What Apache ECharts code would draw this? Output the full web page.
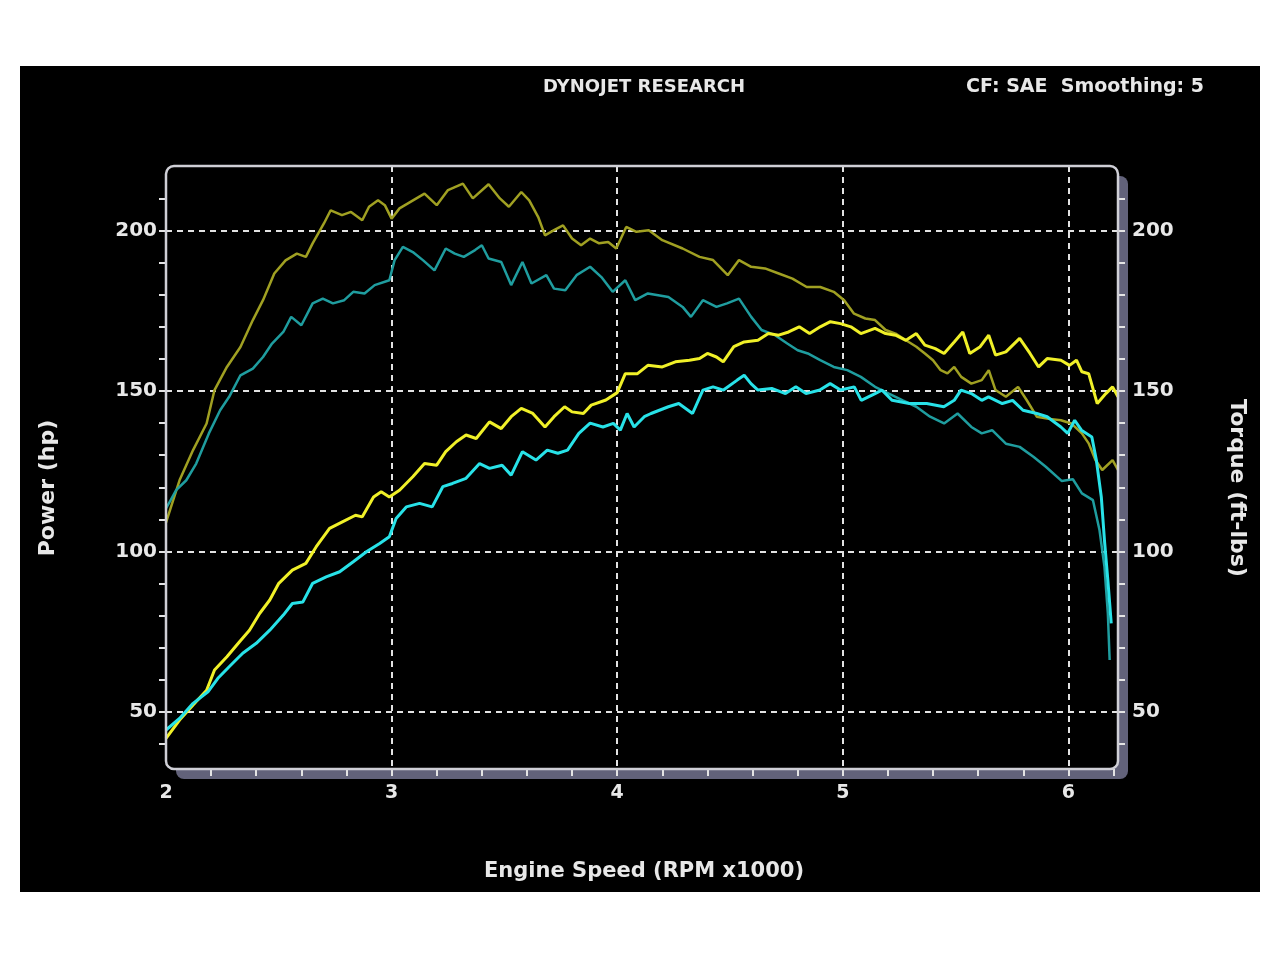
<!DOCTYPE html>
<html><head><meta charset="utf-8">
<script src="https://cdn.jsdelivr.net/npm/echarts@6/dist/echarts.min.js"></script>
<style>
html,body{margin:0;padding:0;background:#fff;width:1280px;height:959px;overflow:hidden}
#panel{position:absolute;left:20px;top:66px;width:1240px;height:826px;background:#000}
#chart{width:1240px;height:826px}
</style></head><body>
<div id="panel"><div id="chart"></div></div>
<script>
// ---- axis ranges & ticks ----
const xMin = 2, xMax = 6.22;
const yMin = 32.25, yMax = 220.1;
const xLabels = [2, 3, 4, 5, 6];
const xMinorTicks = [2.2, 2.4, 2.6, 2.8, 3, 3.2, 3.4, 3.6, 3.8, 4, 4.2, 4.4, 4.6, 4.8, 5, 5.2, 5.4, 5.6, 5.8, 6, 6.2];
const xGridLines = [3, 4, 5, 6];
const yLabels = [50, 100, 150, 200];
const yMinorTicks = [40, 50, 60, 70, 80, 90, 100, 110, 120, 130, 140, 150, 160, 170, 180, 190, 200, 210];
const yGridLines = [50, 100, 150, 200];

// ---- texts ----
const titleText = 'DYNOJET RESEARCH';
const infoText = 'CF: SAE  Smoothing: 5';
const xName = 'Engine Speed (RPM x1000)';
const yLeftName = 'Power (hp)';
const yRightName = 'Torque (ft-lbs)';

// ---- series data [rpm x1000, value] ----
const torqueRun1 = [[2.0,109],[2.06,122.2],[2.12,131.6],[2.18,139.9],[2.215,150.3],[2.27,157.5],[2.33,163.7],[2.385,172.1],[2.43,178.3],[2.48,186.6],[2.53,190.7],[2.58,192.8],[2.62,191.8],[2.65,196],[2.70,202.2],[2.73,206.3],[2.78,204.8],[2.82,205.8],[2.87,203.2],[2.90,207.4],[2.94,209.4],[2.97,207.9],[3.00,203.7],[3.035,206.9],[3.095,209.4],[3.146,211.5],[3.2,207.9],[3.25,212.6],[3.316,214.6],[3.36,210],[3.43,214.4],[3.48,210],[3.52,207.4],[3.575,212],[3.61,209.4],[3.65,204.2],[3.68,198.5],[3.72,200.1],[3.76,201.6],[3.80,197.5],[3.84,195.4],[3.88,197.5],[3.92,196],[3.96,196.4],[3.996,194.4],[4.04,201.1],[4.085,199.6],[4.14,200.1],[4.2,197.0],[4.29,194.4],[4.365,191.8],[4.425,190.8],[4.49,186.1],[4.54,190.8],[4.594,188.7],[4.655,188.2],[4.716,186.6],[4.777,185.0],[4.84,182.4],[4.90,182.4],[4.96,180.9],[5.006,178.3],[5.05,174.1],[5.10,172.6],[5.143,172.1],[5.19,169.0],[5.234,167.9],[5.28,165.8],[5.326,163.8],[5.364,161.7],[5.40,159.6],[5.434,156.5],[5.464,155.5],[5.494,157.5],[5.525,154.4],[5.57,152.3],[5.616,153.4],[5.647,156.5],[5.677,150.3],[5.723,148.2],[5.777,151.3],[5.815,147.2],[5.86,142.0],[5.906,141.4],[5.967,140.9],[6.013,139.9],[6.06,136.8],[6.09,133.7],[6.12,128.5],[6.15,125.4],[6.196,128.5],[6.22,125.4]];
const torqueRun2 = [[2.0,113.4],[2.045,119.1],[2.09,122.2],[2.134,127.4],[2.19,136.8],[2.24,144],[2.28,148.2],[2.33,154.9],[2.385,157],[2.43,160.6],[2.47,164.8],[2.52,168.4],[2.555,173.1],[2.60,170.5],[2.65,177.3],[2.695,178.8],[2.74,177.3],[2.79,178.3],[2.83,180.9],[2.88,180.4],[2.925,183],[2.99,184.5],[3.013,190.7],[3.05,194.9],[3.094,193.3],[3.14,190.7],[3.19,187.6],[3.24,194.4],[3.28,192.8],[3.32,191.8],[3.37,193.9],[3.40,195.4],[3.43,191.3],[3.486,190.2],[3.53,183],[3.58,190.2],[3.62,183.5],[3.686,186.1],[3.72,181.9],[3.77,181.4],[3.82,186.1],[3.88,188.7],[3.93,185.5],[3.98,180.9],[4.036,184.5],[4.08,178.3],[4.136,180.4],[4.227,179.3],[4.29,176.2],[4.327,173.1],[4.38,178.3],[4.44,176.2],[4.487,177.3],[4.54,178.8],[4.594,173.1],[4.64,169.0],[4.70,167.4],[4.754,164.8],[4.80,162.7],[4.845,161.7],[4.90,159.6],[4.96,157.5],[5.02,156.5],[5.08,154.4],[5.143,151.3],[5.204,149.2],[5.266,147.1],[5.326,145.1],[5.387,142.0],[5.449,139.9],[5.509,143.0],[5.57,138.8],[5.616,136.8],[5.662,137.8],[5.723,133.6],[5.784,132.6],[5.845,129.5],[5.9,126.4],[5.97,122],[6.02,122.5],[6.06,118.1],[6.109,116.0],[6.138,106.7],[6.16,95.2],[6.175,80.7],[6.183,66.2]];
const powerRun1 = [[2.0,41.8],[2.06,47.5],[2.12,52.2],[2.18,56.8],[2.215,63.1],[2.27,67.2],[2.326,71.9],[2.37,75.5],[2.415,80.7],[2.46,84.9],[2.50,90.1],[2.56,94.2],[2.62,96.3],[2.666,101.5],[2.725,107.2],[2.784,109.3],[2.84,111.3],[2.87,110.8],[2.92,117.0],[2.954,118.6],[2.99,117],[3.035,119.1],[3.094,123.3],[3.146,127.4],[3.20,126.9],[3.24,131.1],[3.287,134.2],[3.33,136.3],[3.375,135.2],[3.434,140.4],[3.486,138.3],[3.53,142],[3.575,144.6],[3.626,143],[3.68,138.8],[3.72,142],[3.767,145.1],[3.80,143.5],[3.85,143],[3.885,145.6],[3.95,147.2],[4.0,149.5],[4.036,155.4],[4.09,155.4],[4.136,158.0],[4.2,157.5],[4.258,159.1],[4.32,159.6],[4.365,160.1],[4.40,161.7],[4.44,160.6],[4.47,159.1],[4.517,163.8],[4.563,165.3],[4.624,165.8],[4.67,167.9],[4.716,167.4],[4.76,168.4],[4.807,170.0],[4.853,167.9],[4.90,170.0],[4.945,171.6],[4.99,171.0],[5.036,170.0],[5.08,167.9],[5.143,169.5],[5.19,167.9],[5.234,167.4],[5.28,165.8],[5.326,167.9],[5.364,164.3],[5.41,163.2],[5.449,161.7],[5.494,165.3],[5.532,168.4],[5.563,161.7],[5.609,163.8],[5.647,167.4],[5.677,161.2],[5.723,162.2],[5.784,166.4],[5.83,161.7],[5.868,157.5],[5.906,160.1],[5.967,159.6],[6.005,158.0],[6.036,159.6],[6.06,156.0],[6.09,155.4],[6.128,146.1],[6.166,149.2],[6.196,151.3],[6.22,148.2]];
const powerRun2 = [[2.0,44.4],[2.06,48],[2.12,52.7],[2.186,56.3],[2.23,60.5],[2.28,64.1],[2.34,68.3],[2.40,71.4],[2.46,75.5],[2.52,80.2],[2.56,83.8],[2.607,84.3],[2.65,90.1],[2.71,92.1],[2.77,93.7],[2.83,96.8],[2.89,100],[2.947,102.5],[2.99,104.6],[3.02,110.3],[3.065,113.9],[3.124,115],[3.18,113.9],[3.227,120.2],[3.27,121.2],[3.33,122.8],[3.39,127.4],[3.434,125.9],[3.49,126.9],[3.53,123.8],[3.58,131.1],[3.64,128.5],[3.69,131.6],[3.737,130.6],[3.78,131.6],[3.83,136.8],[3.88,140],[3.937,138.8],[3.983,139.9],[4.014,137.8],[4.044,143.0],[4.075,138.8],[4.12,142.0],[4.15,143.0],[4.227,145.1],[4.273,146.1],[4.334,143.0],[4.38,150.3],[4.425,151.3],[4.471,150.3],[4.532,153.4],[4.563,154.9],[4.593,152.3],[4.624,150.3],[4.685,150.8],[4.746,149.2],[4.792,151.3],[4.837,149.2],[4.898,150.3],[4.944,152.3],[4.99,150.3],[5.051,151.3],[5.082,147.1],[5.143,149.2],[5.173,150.3],[5.219,147.1],[5.295,146.1],[5.372,146.1],[5.448,145.1],[5.494,147.1],[5.524,150.3],[5.57,149.2],[5.616,147.1],[5.646,148.2],[5.707,146.1],[5.753,147.1],[5.799,144.0],[5.86,143.0],[5.906,142.0],[5.967,138.8],[5.997,136.8],[6.028,140.9],[6.058,137.8],[6.104,135.7],[6.124,128.5],[6.146,117.0],[6.16,103.5],[6.175,91.1],[6.19,77.6]];

// ---- styling ----
const txtColor = '#e8e8e8';
const fontFam = '"DejaVu Sans", Verdana, sans-serif';
const tickStyle = { color: '#e4e4e4', width: 2 };
const dashStyle = { color: '#e2e2e2', width: 2, type: [6, 5] };
const G = { left: 146, top: 100, width: 952, height: 603 };

const chart = echarts.init(document.getElementById('chart'), null, { renderer: 'canvas' });

function lineSeries(name, data, color, width) {
  return { name, type: 'line', data, xAxisIndex: 0, yAxisIndex: 0, showSymbol: false, symbol: 'none',
    z: 4, animation: false, lineStyle: { color, width }, itemStyle: { color } };
}

const labelStyle = { color: txtColor, fontFamily: fontFam, fontWeight: 'bold', fontSize: 20 };

chart.setOption({
  backgroundColor: 'transparent',
  animation: false,
  title: [
    { text: titleText, left: 624, top: 12, textAlign: 'center', padding: 0,
      textStyle: { color: txtColor, fontFamily: fontFam, fontWeight: 'bold', fontSize: 18 } },
    { text: infoText, right: 56, top: 12, padding: 0,
      textStyle: { color: txtColor, fontFamily: fontFam, fontWeight: 'bold', fontSize: 19 } }
  ],
  grid: { left: G.left, top: G.top, width: G.width, height: G.height, containLabel: false },
  xAxis: [
    { type: 'value', position: 'bottom', min: xMin, max: xMax, z: 3,
      axisLine: { show: false },
      axisTick: { show: true, customValues: xMinorTicks, length: 7, lineStyle: tickStyle },
      axisLabel: Object.assign({ customValues: xLabels, margin: 15, formatter: v => String(v) }, labelStyle, { fontSize: 19 }),
      splitLine: { show: false } },
    { type: 'value', position: 'bottom', min: xMin, max: xMax, z: 3,
      axisLine: { show: false },
      axisTick: { show: false, customValues: xGridLines },
      axisLabel: { show: false },
      splitLine: { show: true, lineStyle: dashStyle } }
  ],
  yAxis: [
    { type: 'value', position: 'left', min: yMin, max: yMax, z: 3,
      axisLine: { show: false },
      axisTick: { show: true, customValues: yMinorTicks, length: 7, lineStyle: tickStyle },
      axisLabel: Object.assign({ customValues: yLabels, margin: 9, padding: [5, 0, 0, 0], formatter: v => String(v) }, labelStyle),
      splitLine: { show: false } },
    { type: 'value', position: 'right', min: yMin, max: yMax, z: 3,
      axisLine: { show: false },
      axisTick: { show: true, customValues: yMinorTicks, length: 7, lineStyle: tickStyle },
      axisLabel: Object.assign({ customValues: yLabels, margin: 14, padding: [5, 0, 0, 0], formatter: v => String(v) }, labelStyle),
      splitLine: { show: false } },
    { type: 'value', position: 'left', min: yMin, max: yMax, z: 3,
      axisLine: { show: false },
      axisTick: { show: false, customValues: yGridLines },
      axisLabel: { show: false },
      splitLine: { show: true, lineStyle: dashStyle } }
  ],
  graphic: [
    { type: 'rect', z: 1, silent: true,
      shape: { x: G.left + 10, y: G.top + 10, width: G.width, height: G.height, r: 8 },
      style: { fill: '#62627a' } },
    { type: 'rect', z: 2, silent: true,
      shape: { x: G.left, y: G.top, width: G.width, height: G.height, r: 8 },
      style: { fill: '#000' } },
    { type: 'rect', z: 6, silent: true,
      shape: { x: G.left, y: G.top, width: G.width, height: G.height, r: 8 },
      style: { fill: 'none', stroke: '#cfcfd6', lineWidth: 2.5 } },
    { type: 'text', z: 6, silent: true, x: 624, y: 806,
      style: { text: xName, fill: txtColor, font: 'bold 21px ' + fontFam,
        textAlign: 'center', textVerticalAlign: 'middle', align: 'center', verticalAlign: 'middle' } },
    { type: 'text', z: 6, silent: true, x: 28, y: 422, rotation: Math.PI / 2,
      style: { text: yLeftName, fill: txtColor, font: 'bold 22px ' + fontFam,
        textAlign: 'center', textVerticalAlign: 'middle', align: 'center', verticalAlign: 'middle' } },
    { type: 'text', z: 6, silent: true, x: 1217, y: 422, rotation: -Math.PI / 2,
      style: { text: yRightName, fill: txtColor, font: 'bold 22px ' + fontFam,
        textAlign: 'center', textVerticalAlign: 'middle', align: 'center', verticalAlign: 'middle' } }
  ],
  series: [
    lineSeries('Torque run 1', torqueRun1, '#a0a022', 2.5),
    lineSeries('Torque run 2', torqueRun2, '#1f9d9f', 2.5),
    lineSeries('Power run 1', powerRun1, '#f0f028', 3),
    lineSeries('Power run 2', powerRun2, '#28e2e8', 3)
  ]
});
</script>
</body></html>
